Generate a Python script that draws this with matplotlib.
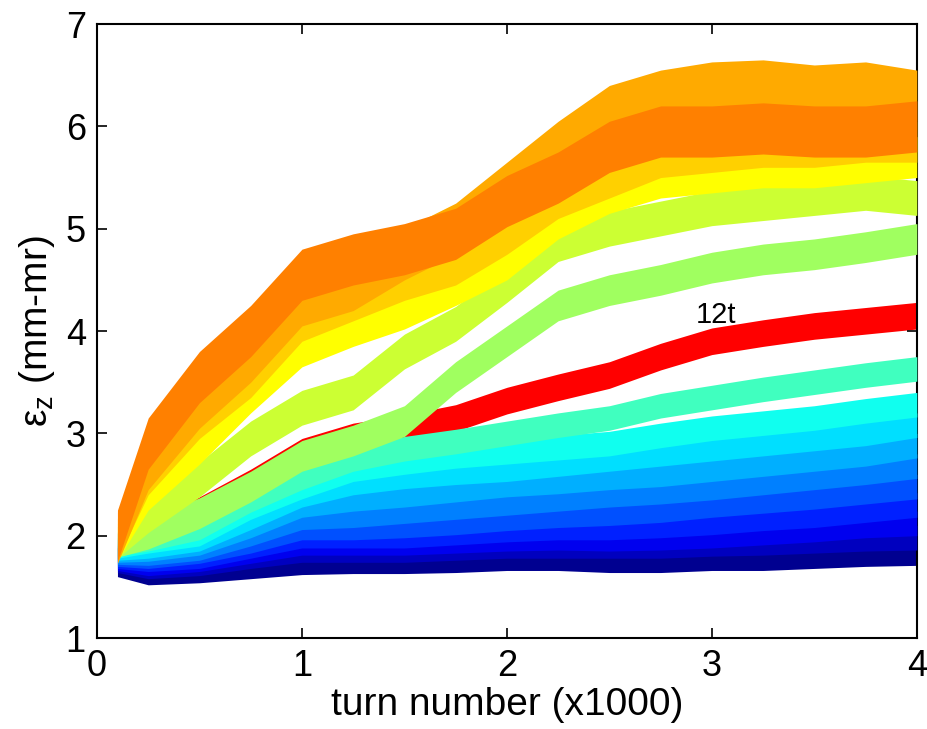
"""
Vertical emittance growth vs turn number, one band per tune (12t in red).
"""
import matplotlib
matplotlib.use('Agg')
import matplotlib.pyplot as plt

# turn number (x1000) where values were read
turns = [0.1, 0.25, 0.5, 0.75, 1.0, 1.25, 1.5, 1.75, 2.0, 2.25, 2.5, 2.75, 3.0, 3.25, 3.5, 3.75, 4.0]

# emittance (mm-mr), lowest curve first
eps_k1 = [1.74, 1.66, 1.68, 1.72, 1.76, 1.77, 1.77, 1.78, 1.80, 1.80, 1.78, 1.78, 1.80, 1.80, 1.82, 1.84, 1.85]
eps_k4 = [1.76, 1.70, 1.73, 1.80, 1.86, 1.86, 1.86, 1.88, 1.90, 1.90, 1.90, 1.90, 1.92, 1.93, 1.95, 1.97, 1.98]
eps_k7 = [1.78, 1.73, 1.77, 1.85, 1.93, 1.93, 1.93, 1.95, 1.97, 1.98, 1.97, 1.98, 2.00, 2.03, 2.06, 2.10, 2.12]
eps_k10 = [1.80, 1.77, 1.80, 1.90, 2.00, 2.00, 2.00, 2.03, 2.06, 2.08, 2.08, 2.10, 2.13, 2.17, 2.20, 2.25, 2.30]
eps_k13 = [1.82, 1.80, 1.85, 1.95, 2.08, 2.08, 2.10, 2.13, 2.17, 2.20, 2.22, 2.25, 2.30, 2.34, 2.38, 2.43, 2.48]
eps_k16 = [1.84, 1.83, 1.88, 2.02, 2.18, 2.20, 2.24, 2.28, 2.32, 2.36, 2.40, 2.43, 2.47, 2.52, 2.57, 2.62, 2.68]
eps_k19 = [1.86, 1.87, 1.93, 2.10, 2.30, 2.36, 2.40, 2.45, 2.50, 2.53, 2.57, 2.60, 2.65, 2.70, 2.75, 2.80, 2.88]
eps_k22 = [1.88, 1.90, 1.97, 2.18, 2.40, 2.52, 2.58, 2.62, 2.65, 2.70, 2.75, 2.80, 2.85, 2.90, 2.95, 3.00, 3.08]
eps_k25 = [1.90, 1.95, 2.02, 2.28, 2.48, 2.65, 2.72, 2.78, 2.82, 2.86, 2.90, 2.98, 3.05, 3.10, 3.15, 3.22, 3.28]
eps_k28 = [1.92, 1.97, 2.08, 2.35, 2.57, 2.75, 2.85, 2.92, 3.00, 3.08, 3.15, 3.27, 3.35, 3.43, 3.50, 3.57, 3.63]
eps_k34 = [1.94, 2.02, 2.22, 2.48, 2.78, 2.93, 3.12, 3.55, 3.90, 4.25, 4.40, 4.50, 4.62, 4.70, 4.75, 4.82, 4.90]
eps_k37 = [1.95, 2.20, 2.55, 2.95, 3.25, 3.40, 3.80, 4.07, 4.45, 4.85, 5.00, 5.10, 5.20, 5.25, 5.30, 5.35, 5.30]
eps_k40 = [1.96, 2.45, 2.90, 3.40, 3.85, 4.05, 4.22, 4.45, 4.70, 5.10, 5.35, 5.50, 5.55, 5.60, 5.60, 5.65, 5.70]
eps_k43 = [1.97, 2.60, 3.15, 3.55, 4.10, 4.30, 4.50, 4.65, 4.95, 5.30, 5.50, 5.70, 5.75, 5.80, 5.80, 5.85, 5.85]
eps_k46 = [1.98, 2.70, 3.30, 3.75, 4.30, 4.45, 4.75, 5.00, 5.40, 5.80, 6.15, 6.30, 6.38, 6.40, 6.35, 6.38, 6.30]
eps_k49 = [2.00, 2.90, 3.55, 4.00, 4.55, 4.70, 4.80, 4.95, 5.27, 5.50, 5.80, 5.95, 5.95, 5.98, 5.95, 5.95, 6.00]
eps_12t = [1.90, 2.00, 2.25, 2.52, 2.82, 2.97, 3.05, 3.15, 3.32, 3.45, 3.57, 3.75, 3.90, 3.98, 4.05, 4.10, 4.15]

# half height of the noise band of each curve (mm-mr)
spread = [0.14, 0.12, 0.12, 0.12, 0.12, 0.12, 0.12, 0.12, 0.12, 0.12, 0.15, 0.17, 0.20, 0.20, 0.25, 0.25]
spread_12t = 0.13

curves = [eps_k1, eps_k4, eps_k7, eps_k10, eps_k13, eps_k16, eps_k19, eps_k22,
          eps_k25, eps_k28, eps_k34, eps_k37, eps_k40, eps_k43, eps_k46, eps_k49]
colors = ['#000090', '#0000BF', '#0000EF', '#0020FF', '#0050FF', '#0080FF', '#00AFFF', '#00DFFF',
          '#10FFEF', '#40FFBF', '#A0FF60', '#CCFF33', '#FFFF00', '#FFD000', '#FFAA00', '#FF8000']

plt.rcParams['font.family'] = ['Liberation Sans', 'DejaVu Sans']

fig = plt.figure(figsize=(9.27, 7.29), dpi=100)
ax = fig.add_axes([0.1046, 0.1248, 0.8844, 0.8422])

# 12t first so the light green band sits over it where they meet
lo = [v - spread_12t for v in eps_12t]
hi = [v + spread_12t for v in eps_12t]
ax.fill_between(turns, lo, hi, color='#FF0000', lw=0, zorder=1)

for i, (vals, c, s) in enumerate(zip(curves, colors, spread)):
    lo = [v - s for v in vals]
    hi = [v + s for v in vals]
    ax.fill_between(turns, lo, hi, color=c, lw=0, zorder=2 + i)

ax.text(3.02, 4.16, '12t', fontsize=21, ha='center', va='center', zorder=30)

ax.set_xlim(0, 4)
ax.set_ylim(1, 7)
ax.set_xticks([0, 1, 2, 3, 4])
ax.set_yticks([1, 2, 3, 4, 5, 6, 7])
ax.tick_params(direction='in', length=7, width=1.2, labelsize=26, top=True, right=True, pad=8)
for sp in ax.spines.values():
    sp.set_linewidth(1.5)

ax.set_xlabel('turn number (x1000)', fontsize=28, labelpad=2)
ax.set_ylabel('ε$_\\mathregular{z}$ (mm-mr)', fontsize=28, labelpad=6)

fig.savefig('out.png', dpi=100)
